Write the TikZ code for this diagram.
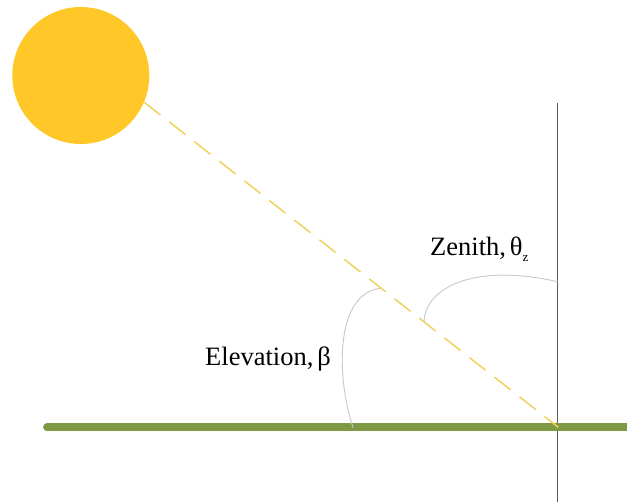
\documentclass[tikz,border=0pt]{standalone}
\usepackage{fontspec}
\setmainfont{Liberation Serif}
\definecolor{sun}{HTML}{FFC828}
\definecolor{raycolor}{HTML}{EFD25C}
\definecolor{ground}{HTML}{7F9A45}
\definecolor{vertical}{HTML}{5A5A5A}
\definecolor{angle}{HTML}{C8C8C8}
\begin{document}
\begin{tikzpicture}[
  x=1pt, y=-1pt,
  line cap=butt, line join=round,
  every node/.style={font=\fontsize{26.5}{29}\selectfont, inner sep=0pt},
  sunstyle/.style={circle, fill=sun, minimum size=137pt},
  groundline/.style={draw=ground, line width=7.8pt},
  verticalline/.style={draw=vertical, line width=1.2pt},
  ray/.style={draw=raycolor, line width=1.5pt, dash pattern=on 20.5pt off 11.3pt},
  anglearc/.style={draw=angle, line width=0.9pt},
]
\useasboundingbox (0,0) rectangle (627,502);
\draw[verticalline] (557.5,103) -- (557.5,502);
\draw[groundline, line cap=round] (47,427.4) -- (632,427.4);
\node[sunstyle] (sun) at (80.8,75.5) {};
\coordinate (start) at (144.3,102.3);
\coordinate (foot) at (558.3,427.3);
\draw[ray] (start) -- (foot);
\draw[anglearc] (353.3,428) .. controls (338,385) and (332,295) .. (380,288.3);
\draw[anglearc] (424,322.7) .. controls (424,290) and (470,262) .. (557.5,281.7);
\node[anchor=base west] (zenith) at (430,256) {Zenith,\hspace{4pt}θ\raisebox{-6pt}{\fontsize{13}{13}\selectfont z}};
\node[anchor=base west] (elevation) at (205,365.5) {Elevation,\hspace{4pt}β};
\end{tikzpicture}
\end{document}
